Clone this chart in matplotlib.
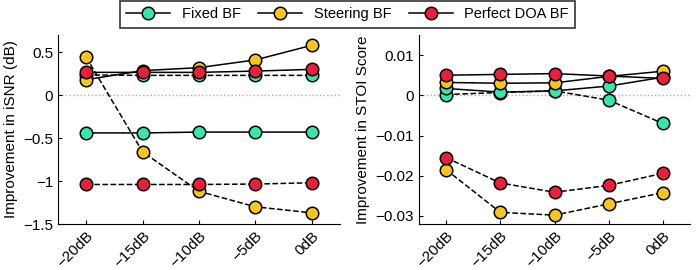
import matplotlib
matplotlib.use('Agg')
import matplotlib.pyplot as plt
from matplotlib.lines import Line2D

plt.rcParams['font.family'] = ['Liberation Sans', 'DejaVu Sans']

# ---------- 数据 ----------
snr_labels = ['\u221220dB', '\u221215dB', '\u221210dB', '\u22125dB', '0dB']
methods = ['Fixed BF', 'Steering BF', 'Perfect DOA BF']

# iSNR 改善 (dB)：实线 / 虚线
isnr_fixed_solid = [-0.44, -0.44, -0.43, -0.43, -0.43]
isnr_fixed_dashed = [0.235, 0.23, 0.23, 0.23, 0.23]
isnr_steer_solid = [0.18, 0.285, 0.32, 0.41, 0.58]
isnr_steer_dashed = [0.44, -0.66, -1.12, -1.30, -1.37]
isnr_doa_solid = [0.265, 0.265, 0.265, 0.28, 0.30]
isnr_doa_dashed = [-1.04, -1.04, -1.04, -1.035, -1.02]

# STOI 改善
stoi_fixed_solid = [0.0017, 0.0008, 0.0011, 0.0023, 0.0045]
stoi_fixed_dashed = [0.0002, 0.0007, 0.0011, -0.0012, -0.0070]
stoi_steer_solid = [0.0032, 0.0030, 0.0031, 0.0047, 0.0060]
stoi_steer_dashed = [-0.0185, -0.0291, -0.0298, -0.0270, -0.0242]
stoi_doa_solid = [0.0050, 0.0052, 0.0054, 0.0048, 0.0042]
stoi_doa_dashed = [-0.0155, -0.0218, -0.0241, -0.0224, -0.0194]

COLORS = ['#35E6AE', '#F7C51C', '#E8203C']
MS = 9


def draw_panel(ax, series, ylim, yticks, yticklabels, ylabel):
    x = list(range(1, len(snr_labels) + 1))
    ax.axhline(0, color='#aaaaaa', ls=':', lw=1, zorder=0)
    for vals, color, ls in series:
        ax.plot(x, vals, color='black', ls=ls, lw=1.1,
                marker='o', ms=MS, mfc=color, mec='black', mew=1.1)
    ax.set_xlim(0.5, 5.5)
    ax.set_ylim(*ylim)
    ax.set_xticks(x)
    ax.set_xticklabels(snr_labels, rotation=45, ha='right', rotation_mode='anchor')
    ax.set_yticks(yticks)
    ax.set_yticklabels(yticklabels)
    ax.set_ylabel(ylabel, fontsize=11)
    ax.spines['top'].set_visible(False)
    ax.spines['right'].set_visible(False)
    ax.tick_params(direction='in', labelsize=11, length=3)


fig = plt.figure(figsize=(7, 2.7), dpi=100)
ax1 = fig.add_axes([58 / 700, 46 / 270, 282 / 700, 189 / 270])
ax2 = fig.add_axes([419 / 700, 46 / 270, 271 / 700, 189 / 270])

draw_panel(ax1, [
    (isnr_fixed_dashed, COLORS[0], '--'),
    (isnr_steer_dashed, COLORS[1], '--'),
    (isnr_doa_dashed, COLORS[2], '--'),
    (isnr_fixed_solid, COLORS[0], '-'),
    (isnr_steer_solid, COLORS[1], '-'),
    (isnr_doa_solid, COLORS[2], '-'),
], (-1.5, 0.7), [-1.5, -1, -0.5, 0, 0.5],
    ['\u22121.5', '\u22121', '\u22120.5', '0', '0.5'], 'Improvement in iSNR (dB)')

draw_panel(ax2, [
    (stoi_fixed_dashed, COLORS[0], '--'),
    (stoi_steer_dashed, COLORS[1], '--'),
    (stoi_doa_dashed, COLORS[2], '--'),
    (stoi_fixed_solid, COLORS[0], '-'),
    (stoi_steer_solid, COLORS[1], '-'),
    (stoi_doa_solid, COLORS[2], '-'),
], (-0.032, 0.015), [-0.03, -0.02, -0.01, 0, 0.01],
    ['\u22120.03', '\u22120.02', '\u22120.01', '0', '0.01'], 'Improvement in STOI Score')

# 图例
handles = [Line2D([0], [0], color='black', lw=1.1, marker='o', ms=MS,
                  mfc=c, mec='black', mew=1.1) for c in COLORS]
leg = fig.legend(handles, methods, ncol=3, loc='upper center',
                 bbox_to_anchor=(347.5 / 700, 0.998), fontsize=10.5,
                 frameon=True, fancybox=False, edgecolor='black',
                 borderpad=0.45, handlelength=3, columnspacing=1.2,
                 borderaxespad=0)
leg.get_frame().set_linewidth(1.2)

fig.savefig('out.png')
